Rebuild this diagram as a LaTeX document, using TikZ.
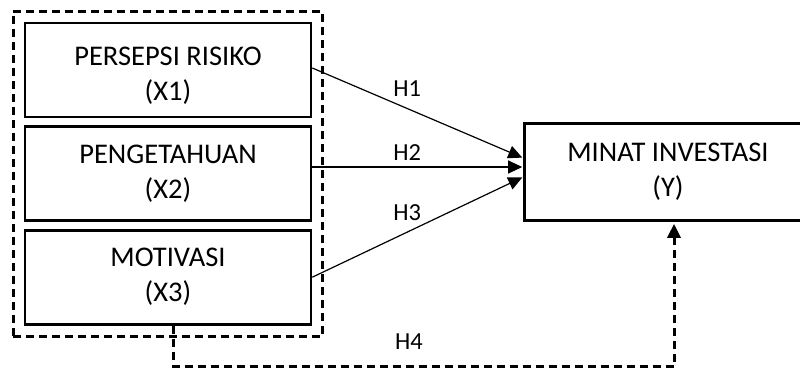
\documentclass[tikz,border=0pt]{standalone}
\usepackage{fontspec}
\setmainfont{Carlito}
\usepackage{tikz}
\usetikzlibrary{
	arrows.meta,
	positioning,
	fit,
	}
\newcommand{\varfont}{\fontsize{28.5}{35}\selectfont}
\newcommand{\hypfont}{\fontsize{24.5}{29}\selectfont}
\newcommand{\lowered}[1]{\raisebox{-6pt}[\height][\depth]{#1}}

\begin{document}
\begin{tikzpicture}[x=1pt,y=-1pt,
		var/.style={draw, line width=2.6pt, align=center, font=\varfont},
		rel/.style={line width=1.2pt, -{Triangle[length=14pt,width=13pt]}, shorten >=1pt},
		grp/.style={draw, line width=3pt, dash pattern=on 8pt off 5pt},
		lbl/.style={font=\hypfont}]
			\useasboundingbox (0,0) rectangle (800,367);

			\node[var, minimum width=286pt, minimum height=94pt] (x1) at (168,70) {\lowered{PERSEPSI RISIKO}\\\lowered{(X1)}};
			\node[var, minimum width=286pt, minimum height=94pt, below=7pt of x1] (x2) {PENGETAHUAN\\(X2)};
			\node[var, minimum width=286pt, minimum height=94pt, below=7pt of x2] (x3) {MOTIVASI\\(X3)};
			\node[var, minimum width=287pt, minimum height=97pt] (y) at (668,172) {MINAT INVESTASI\\(Y)};

			\node[grp, fit=(x1)(x2)(x3), inner sep=10.5pt] (grp) {};

			\draw[rel] ([yshift=2pt]x1.east) -- ([yshift=14pt]y.west) node[lbl, pos=0.45, above=8.5pt] (h1) {H1};
			\draw[rel] ([yshift=6.6pt]x2.east) -- ([yshift=5pt]y.west) node[lbl, pos=0.45, above=2.5pt] (h2) {H2};
			\draw[rel] (x3.east) -- ([yshift=-5pt]y.west) node[lbl, pos=0.45, above=8pt] (h3) {H3};

			\coordinate (h4a) at ([xshift=5pt]x3.south);
			\coordinate (low) at (0,366);
			\draw[grp, -{Triangle[length=14pt,width=13pt]}, shorten >=2pt] (h4a) -- (h4a |- low) -| ([xshift=6pt]y.south);
			\node[lbl] (h4) at (409,342) {H4};

		\end{tikzpicture}
\end{document}
